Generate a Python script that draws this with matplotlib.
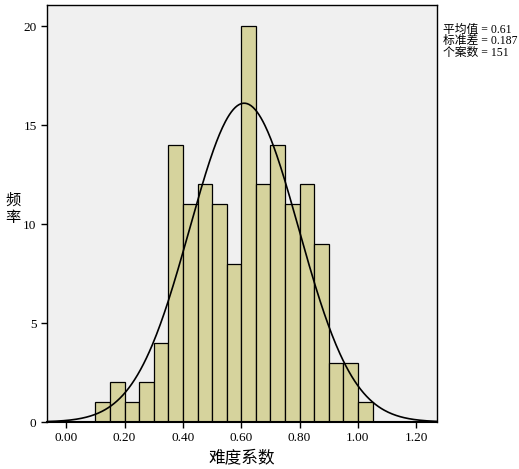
import numpy as np
import matplotlib
matplotlib.use("Agg")
import matplotlib.pyplot as plt

# histogram data (bin width 0.05)
bin_edges = [0.10, 0.15, 0.20, 0.25, 0.30, 0.35, 0.40, 0.45, 0.50, 0.55,
             0.60, 0.65, 0.70, 0.75, 0.80, 0.85, 0.90, 0.95, 1.00, 1.05]
counts = [1, 2, 1, 2, 4, 14, 11, 12, 11, 8, 20, 12, 14, 11, 12, 9, 3, 3, 1]
mean_val = 0.61
std_val = 0.187
n_cases = 151
x_ticks = [0.0, 0.2, 0.4, 0.6, 0.8, 1.0, 1.2]
y_ticks = [0, 5, 10, 15, 20]

num_font = "Liberation Serif"
cjk_font = ["Liberation Serif", "Noto Sans CJK SC"]

fig = plt.figure(figsize=(5.19, 4.69), dpi=100)
ax = fig.add_axes([0.0906, 0.1002, 0.7508, 0.8888])
ax.set_facecolor("#F0F0F0")

lefts = np.array(bin_edges[:-1])
widths = np.diff(bin_edges)
ax.bar(lefts, counts, width=widths, align="edge", color="#D6D39D",
       edgecolor="black", linewidth=0.9, zorder=2)

# normal curve scaled to counts
xs = np.linspace(-0.07, 1.28, 400)
bw = widths[0]
ys = n_cases * bw / (std_val * np.sqrt(2 * np.pi)) * np.exp(-0.5 * ((xs - mean_val) / std_val) ** 2)
ax.plot(xs, ys, color="black", linewidth=1.2, zorder=3)

ax.set_xlim(-0.066, 1.27)
ax.set_ylim(0, 21.06)
ax.set_xticks(x_ticks)
ax.set_xticklabels([f"{t:.2f}" for t in x_ticks], fontname=num_font, fontsize=9.5)
ax.set_yticks(y_ticks)
ax.set_yticklabels([str(t) for t in y_ticks], fontname=num_font, fontsize=9.5)
ax.tick_params(direction="out", length=4, width=1, colors="black")

for s in ax.spines.values():
    s.set_linewidth(1)
ax.spines["bottom"].set_linewidth(1.5)

ax.set_xlabel("难度系数", family=cjk_font, fontsize=12, labelpad=4)
ax.set_ylabel("频\n率", family=cjk_font, fontsize=11, rotation=0,
              va="center", ha="center", linespacing=1.3)
ax.yaxis.set_label_coords(-0.088, 0.51)

stats = f"平均值 = {mean_val:.2f}\n标准差 = {std_val:.3f}\n个案数 = {n_cases}"
fig.text(0.853, 0.948, stats, family=cjk_font, fontsize=8.5,
         va="top", ha="left", linespacing=0.9)

fig.savefig("out.png", dpi=100)
